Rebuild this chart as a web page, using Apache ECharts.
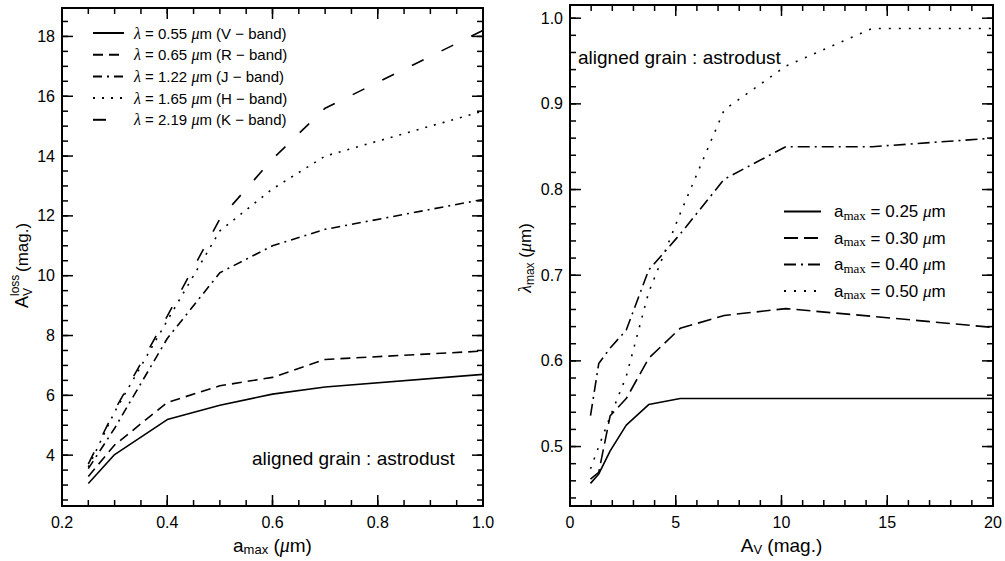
<!DOCTYPE html>
<html>
<head>
<meta charset="utf-8">
<script src="https://cdn.jsdelivr.net/npm/echarts@6/dist/echarts.min.js"></script>
<style>
  html, body { margin: 0; padding: 0; background: #fff; }
  #chart { width: 1005px; height: 561px; background: #fff; }
</style>
</head>
<body>
<div id="chart"></div>
<script>
// ---- Left panel: A_V loss along the line of sight vs. maximum grain size ----
const aMax  = [0.25, 0.30, 0.40, 0.50, 0.60, 0.70, 1.00];
const lossV = [3.05, 4.02, 5.19, 5.67, 6.04, 6.28, 6.70];
const lossR = [3.29, 4.34, 5.76, 6.32, 6.60, 7.20, 7.48];
const lossJ = [3.55, 4.90, 7.90, 10.10, 11.00, 11.55, 12.55];
const lossH = [3.60, 5.45, 8.50, 11.50, 12.90, 14.00, 15.50];
const lossK = [3.70, 5.50, 8.65, 11.90, 13.90, 15.60, 18.20];
const bandNames = [
  'λ = 0.55 μm (V − band)',
  'λ = 0.65 μm (R − band)',
  'λ = 1.22 μm (J − band)',
  'λ = 1.65 μm (H − band)',
  'λ = 2.19 μm (K − band)'
];
const aMaxTicks = [0.2, 0.4, 0.6, 0.8, 1.0];
const lossTicks = [4, 6, 8, 10, 12, 14, 16, 18];

// ---- Right panel: peak polarization wavelength vs. visual extinction ----
const avMag  = [0.97, 1.36, 1.90, 2.66, 3.72, 5.21, 7.29, 10.2, 14.29, 20];
const lam025 = [0.457, 0.468, 0.495, 0.525, 0.549, 0.556, 0.556, 0.556, 0.556, 0.556];
const lam030 = [0.462, 0.470, 0.536, 0.556, 0.603, 0.638, 0.653, 0.661, 0.652, 0.639];
const lam040 = [0.536, 0.597, 0.615, 0.636, 0.706, 0.748, 0.812, 0.850, 0.850, 0.860];
const lam050 = [0.474, 0.500, 0.535, 0.582, 0.680, 0.772, 0.893, 0.944, 0.988, 0.988];
const sizeNames = [
  'amax = 0.25 μm',
  'amax = 0.30 μm',
  'amax = 0.40 μm',
  'amax = 0.50 μm'
];
const avTicks = [0, 5, 10, 15, 20];
const lamTicks = [0.5, 0.6, 0.7, 0.8, 0.9, 1.0];

const FONT = 'Liberation Sans, Arial, sans-serif';
const SERIF = 'Liberation Serif, DejaVu Serif, serif';

function steps(from, to, step) {
  const out = [];
  for (let v = from; v <= to + 1e-9; v += step) out.push(Math.round(v * 1000) / 1000);
  return out;
}

const panels = [
  { left: 62, top: 8, width: 421, height: 501,
    x: { min: 0.2, max: 1.0, major: aMaxTicks, minor: steps(0.25, 0.95, 0.05), fmt: v => v.toFixed(1),
         name: '{a|a}{s|max} ({g|μ}m)' },
    y: { min: 2.3, max: 18.95, major: lossTicks, minor: steps(2.5, 18.5, 0.5), fmt: v => String(v) } },
  { left: 570, top: 5, width: 423, height: 504,
    x: { min: 0, max: 20, major: avTicks, minor: steps(1, 19, 1), fmt: v => String(v),
         name: '{a|A}{s|V} (mag.)' },
    y: { min: 0.4306, max: 1.0154, major: lamTicks, minor: steps(0.44, 1.0, 0.02), fmt: v => v.toFixed(1) } }
];

const grids = [], xAxes = [], yAxes = [];
panels.forEach((p, gi) => {
  grids.push({ left: p.left, top: p.top, width: p.width, height: p.height,
               show: true, borderColor: '#000', borderWidth: 2 });
  xAxes.push({
    type: 'value', gridIndex: gi, min: p.x.min, max: p.x.max, position: 'bottom',
    axisLine: { show: false, onZero: false }, axisTick: { show: false }, splitLine: { show: false },
    axisLabel: { show: true, customValues: p.x.major.slice(), color: '#000', fontSize: 16, fontFamily: FONT, margin: 8, formatter: p.x.fmt },
    name: p.x.name, nameLocation: 'middle', nameGap: 28,
    nameTextStyle: {
      color: '#000', fontFamily: FONT, fontSize: 19,
      rich: {
        a: { fontSize: 19, fontFamily: FONT, color: '#000' },
        s: { fontSize: 13, fontFamily: FONT, color: '#000', padding: [9, 0, 0, 0] },
        g: { fontFamily: SERIF, fontStyle: 'italic', fontSize: 20, color: '#000' }
      }
    }
  });
  yAxes.push({
    type: 'value', gridIndex: gi, min: p.y.min, max: p.y.max, position: 'left',
    axisLine: { show: false, onZero: false }, axisTick: { show: false }, splitLine: { show: false },
    axisLabel: { show: true, customValues: p.y.major.slice(), color: '#000', fontSize: 16, fontFamily: FONT, margin: 7, formatter: p.y.fmt }
  });
});

// Inward ticks on all four sides of a panel, placed through the panel's own scales.
// Each item: [x, y, kind]; kind 0 = major x, 1 = minor x, 2 = major y, 3 = minor y
function tickSeries(pi) {
  const p = panels[pi];
  const data = [];
  p.x.major.forEach(v => data.push([v, p.y.min, 0]));
  p.x.minor.forEach(v => data.push([v, p.y.min, 1]));
  p.y.major.forEach(v => data.push([p.x.min, v, 2]));
  p.y.minor.forEach(v => data.push([p.x.min, v, 3]));
  return {
    type: 'custom', xAxisIndex: pi, yAxisIndex: pi, silent: true,
    dimensions: ['x', 'y', 'kind'],
    encode: { x: 0, y: 1 },
    data,
    renderItem: (params, api) => {
      const pt = api.coord([api.value(0), api.value(1)]);
      const kind = api.value(2);
      const cs = params.coordSys;
      const len = (kind === 0 || kind === 2) ? 11 : 6;
      const st = () => ({ stroke: '#000', lineWidth: 1.5, fill: null });
      if (kind < 2) {
        const x = pt[0], b = cs.y + cs.height, t = cs.y;
        return { type: 'group', children: [
          { type: 'line', shape: { x1: x, y1: b, x2: x, y2: b - len }, style: st() },
          { type: 'line', shape: { x1: x, y1: t, x2: x, y2: t + len }, style: st() }
        ] };
      }
      const y = pt[1], l = cs.x, r = cs.x + cs.width;
      return { type: 'group', children: [
        { type: 'line', shape: { x1: l, y1: y, x2: l + len, y2: y }, style: st() },
        { type: 'line', shape: { x1: r, y1: y, x2: r - len, y2: y }, style: st() }
      ] };
    }
  };
}

function lineSeries(name, panel, xs, ys, dash) {
  return {
    name, type: 'line', xAxisIndex: panel, yAxisIndex: panel,
    data: xs.map((x, i) => [x, ys[i]]), symbol: 'none', smooth: false, color: '#000',
    lineStyle: { color: '#000', width: 1.6, type: dash }
  };
}

const series = [
  lineSeries(bandNames[0], 0, aMax, lossV, 'solid'),
  lineSeries(bandNames[1], 0, aMax, lossR, [10, 6]),
  lineSeries(bandNames[2], 0, aMax, lossJ, [9, 5, 2, 5]),
  lineSeries(bandNames[3], 0, aMax, lossH, [2, 7]),
  lineSeries(bandNames[4], 0, aMax, lossK, [13, 20]),
  lineSeries(sizeNames[0], 1, avMag, lam025, 'solid'),
  lineSeries(sizeNames[1], 1, avMag, lam030, [14, 6]),
  lineSeries(sizeNames[2], 1, avMag, lam040, [12, 5, 2, 5]),
  lineSeries(sizeNames[3], 1, avMag, lam050, [2, 8]),
  tickSeries(0),
  tickSeries(1)
];

const legendBase = () => ({
  orient: 'vertical', selectedMode: false, padding: 0, inactiveColor: '#000',
  itemStyle: { color: 'rgba(0,0,0,0)', borderWidth: 0, opacity: 0 }
});

const chart = echarts.init(document.getElementById('chart'), null, { renderer: 'svg' });
chart.setOption({
  animation: false,
  textStyle: { fontFamily: FONT, color: '#000' },
  grid: grids,
  xAxis: xAxes,
  yAxis: yAxes,
  legend: [
    Object.assign(legendBase(), {
      left: 92, top: 25, itemWidth: 31, itemHeight: 16, itemGap: 5.7,
      data: bandNames,
      formatter: n => n.replace('λ', '{g|λ}').replace('μ', '{g|μ}'),
      textStyle: {
        color: '#000', fontSize: 15, fontFamily: FONT, padding: [0, 0, 0, 5],
        rich: { g: { fontFamily: SERIF, fontStyle: 'italic', fontSize: 16, color: '#000' } }
      }
    }),
    Object.assign(legendBase(), {
      left: 783, top: 203, itemWidth: 37, itemHeight: 17, itemGap: 8,
      data: sizeNames,
      formatter: n => n.replace('amax', '{a|a}{s|max}').replace('μ', '{g|μ}'),
      textStyle: {
        color: '#000', fontSize: 17, fontFamily: FONT, padding: [0, 0, 0, 8],
        rich: {
          a: { fontSize: 17, fontFamily: FONT, color: '#000' },
          s: { fontSize: 13, fontFamily: SERIF, color: '#000', padding: [7, 0, 0, 0] },
          g: { fontFamily: SERIF, fontStyle: 'italic', fontSize: 17, color: '#000' }
        }
      }
    })
  ],
  graphic: [
    { type: 'text', x: 252, y: 458, style: { text: 'aligned grain : astrodust', font: '19px ' + FONT, fill: '#000', align: 'left', verticalAlign: 'middle' } },
    { type: 'text', x: 578, y: 57, style: { text: 'aligned grain : astrodust', font: '19px ' + FONT, fill: '#000', align: 'left', verticalAlign: 'middle' } },
    {
      type: 'group', x: 22, y: 260, rotation: Math.PI / 2,
      children: [
        { type: 'text', x: -48, y: 0, style: { text: 'A', font: '18px ' + FONT, fill: '#000', align: 'left', verticalAlign: 'middle' } },
        { type: 'text', x: -36, y: -7, style: { text: 'loss', font: '12px ' + FONT, fill: '#000', align: 'left', verticalAlign: 'middle' } },
        { type: 'text', x: -36, y: 6, style: { text: 'V', font: '12px ' + FONT, fill: '#000', align: 'left', verticalAlign: 'middle' } },
        { type: 'text', x: -12, y: 0, style: { text: '(mag.)', font: '17px ' + FONT, fill: '#000', align: 'left', verticalAlign: 'middle' } }
      ]
    },
    {
      type: 'text', x: 525, y: 258, rotation: Math.PI / 2,
      style: {
        text: '{g|λ}{s|max} ({g|μ}m)', font: '17px ' + FONT, fill: '#000', align: 'center', verticalAlign: 'middle',
        rich: {
          g: { fontFamily: SERIF, fontStyle: 'italic', fontSize: 18, fill: '#000' },
          s: { fontSize: 12, fontFamily: FONT, fill: '#000', padding: [9, 0, 0, 0] }
        }
      }
    }
  ],
  series
});
</script>
</body>
</html>
